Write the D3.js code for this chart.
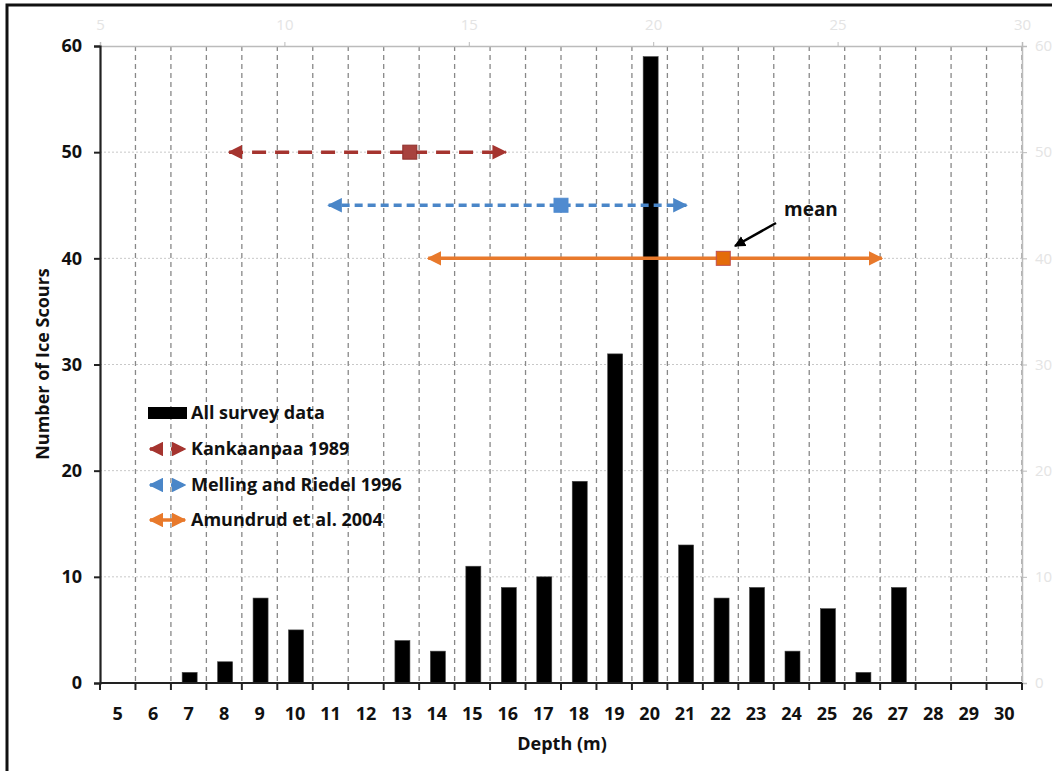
<!DOCTYPE html>
<html><head><meta charset="utf-8">
<script src="https://cdn.jsdelivr.net/npm/d3@7"></script>
<style>body{margin:0;background:#fff}svg{display:block}text{font-family:"Open Sans",Lato,sans-serif;font-weight:bold}</style>
</head><body><svg id="c" width="1052" height="771"></svg>
<script>
const depths = [5,6,7,8,9,10,11,12,13,14,15,16,17,18,19,20,21,22,23,24,25,26,27,28,29,30];
const counts = [0,0,1,2,8,5,0,0,4,3,11,9,10,19,31,59,13,8,9,3,7,1,9,0,0,0];
const yTicks = [0,10,20,30,40,50,60];
const topTicks = [5,10,15,20,25,30];
const studyNames = ["Kankaanpaa 1989","Melling and Riedel 1996","Amundrud et al. 2004"];
const studyMin = [8.5, 11.2, 13.9];
const studyMax = [16.0, 20.9, 26.2];
const studyMean = [13.4, 17.5, 21.9];
const studyY = [50, 45, 40];
const studyColor = ["#A5342F","#4A86C8","#E8792B"];
const markerFill = ["#A8423E","#4F8BD0","#E46C0A"];
const markerStroke = ["#8E2F2B","#4F8BD0","#C0504D"];
const studyDash = ["14,9","8,5",null];

const svg = d3.select("#c");
const L=100,R=1022,T=46,B=683;
// frame
svg.append("path").attr("d","M7,771V5H1052").attr("fill","none").attr("stroke","#111").attr("stroke-width",3);

const x = d3.scaleBand().domain(depths).range([L,R]).paddingInner(0).paddingOuter(0);
const x2 = d3.scaleLinear().domain([5,30]).range([L,R]);
const y = d3.scaleLinear().domain([0,60]).range([B,T]);

// horizontal grid
svg.append("g").selectAll("line").data(yTicks.filter(d=>d>0&&d<60)).join("line")
  .attr("x1",L).attr("x2",R).attr("y1",d=>y(d)).attr("y2",d=>y(d))
  .attr("stroke","#c8c8c8").attr("stroke-width",1).attr("stroke-dasharray","2,2");
// vertical dashed grid at boundaries
const bounds = depths.slice(1).map(d=>x(d)).concat([R]);
svg.append("g").selectAll("line").data(bounds).join("line")
  .attr("x1",d=>d).attr("x2",d=>d).attr("y1",T).attr("y2",B)
  .attr("stroke","#888").attr("stroke-width",1.3).attr("stroke-dasharray","5,4");

// top secondary axis
const gt = svg.append("g").attr("transform",`translate(0,${T})`).call(d3.axisTop(x2).tickValues(topTicks).tickSize(4).tickPadding(12));
gt.select(".domain").attr("stroke","#bbb").attr("stroke-width",1.5);
gt.selectAll(".tick line").attr("stroke","#bbb");
gt.selectAll("text").attr("fill","#e4e4e4").attr("font-size",15).style("font-weight","normal");
// right secondary axis
const gr = svg.append("g").attr("transform",`translate(${R},0)`).call(d3.axisRight(y).tickValues(yTicks).tickSize(5).tickPadding(8));
gr.select(".domain").attr("stroke","#bbb").attr("stroke-width",1.5);
gr.selectAll(".tick line").attr("stroke","#bbb");
gr.selectAll("text").attr("fill","#e4e4e4").attr("font-size",15).style("font-weight","normal");

// bars
const bw = 15;
svg.append("g").selectAll("rect").data(depths.map((d,i)=>({d,v:counts[i]})).filter(o=>o.v>0)).join("rect")
  .attr("x",o=>x(o.d)+x.bandwidth()/2-bw/2+1).attr("width",bw)
  .attr("y",o=>y(o.v)).attr("height",o=>B-y(o.v))
  .attr("fill","#000").attr("stroke","#444").attr("stroke-width",0.6);

// left axis
const gl = svg.append("g").attr("transform",`translate(${L},0)`).call(d3.axisLeft(y).tickValues(yTicks).tickSize(6).tickPadding(12));
gl.select(".domain").attr("stroke","#222").attr("stroke-width",2.2);
gl.selectAll(".tick line").attr("stroke","#222").attr("stroke-width",2);
gl.selectAll("text").attr("fill","#111").attr("font-size",18);
// bottom axis
const gb = svg.append("g").attr("transform",`translate(0,${B})`);
gb.append("line").attr("x1",L).attr("x2",R).attr("stroke","#222").attr("stroke-width",2.2);
gb.selectAll("line.t").data([L].concat(bounds)).join("line").attr("class","t")
  .attr("x1",d=>d).attr("x2",d=>d).attr("y1",0).attr("y2",7).attr("stroke","#222").attr("stroke-width",2);
gb.selectAll("text").data(depths).join("text").attr("x",d=>x(d)+x.bandwidth()/2).attr("y",37)
  .attr("text-anchor","middle").attr("font-size",18).attr("fill","#111").text(d=>d);

// axis titles
svg.append("text").attr("x",562).attr("y",750).attr("text-anchor","middle").attr("font-size",18).attr("fill","#111").text("Depth (m)");
svg.append("text").attr("transform","translate(49,364) rotate(-90)").attr("text-anchor","middle").attr("font-size",18).attr("fill","#111").text("Number of Ice Scours");

// defs markers
const defs = svg.append("defs");
studyColor.forEach((c,i)=>{
  defs.append("marker").attr("id","ae"+i).attr("viewBox","0 0 10 10").attr("refX",9).attr("refY",5)
    .attr("markerWidth",4.2).attr("markerHeight",4.2).attr("orient","auto-start-reverse").attr("markerUnits","strokeWidth")
    .append("path").attr("d","M0,0L10,5L0,10z").attr("fill",c);
});
defs.append("marker").attr("id","ablk").attr("viewBox","0 0 10 10").attr("refX",9).attr("refY",5)
  .attr("markerWidth",4.5).attr("markerHeight",4.5).attr("orient","auto").attr("markerUnits","strokeWidth")
  .append("path").attr("d","M0,0L10,5L0,10z").attr("fill","#000");

// study ranges
studyNames.forEach((n,i)=>{
  svg.append("line").attr("x1",x2(studyMin[i])).attr("x2",x2(studyMax[i])).attr("y1",y(studyY[i])).attr("y2",y(studyY[i]))
    .attr("stroke",studyColor[i]).attr("stroke-width",3.5).attr("stroke-dasharray",studyDash[i])
    .attr("marker-start",`url(#ae${i})`).attr("marker-end",`url(#ae${i})`);
  svg.append("rect").attr("x",x2(studyMean[i])-7).attr("y",y(studyY[i])-7).attr("width",14).attr("height",14)
    .attr("fill",markerFill[i]).attr("stroke",markerStroke[i]).attr("stroke-width",1);
});

// mean annotation
svg.append("text").attr("x",784).attr("y",216).attr("font-size",19).attr("fill","#111").text("mean");
svg.append("line").attr("x1",776).attr("y1",223).attr("x2",735).attr("y2",246).attr("stroke","#000").attr("stroke-width",2.5).attr("marker-end","url(#ablk)");

// legend
const lg = svg.append("g");
const lx=148, ly=[413,449,485,520];
lg.append("rect").attr("x",lx).attr("y",ly[0]-6).attr("width",39).attr("height",12).attr("fill","#000");
studyNames.forEach((n,i)=>{
  const yy=ly[i+1];
  lg.append("line").attr("x1",lx+2).attr("x2",lx+37).attr("y1",yy).attr("y2",yy).attr("stroke",studyColor[i]).attr("stroke-width",3.5)
    .attr("stroke-dasharray",studyDash[i]?"12,9":null).attr("marker-start",`url(#ae${i})`).attr("marker-end",`url(#ae${i})`);
});
lg.selectAll("text").data(["All survey data"].concat(studyNames)).join("text").attr("x",191).attr("y",(d,i)=>ly[i]+6)
  .attr("font-size",18).attr("fill","#111").text(d=>d);
</script></body></html>
